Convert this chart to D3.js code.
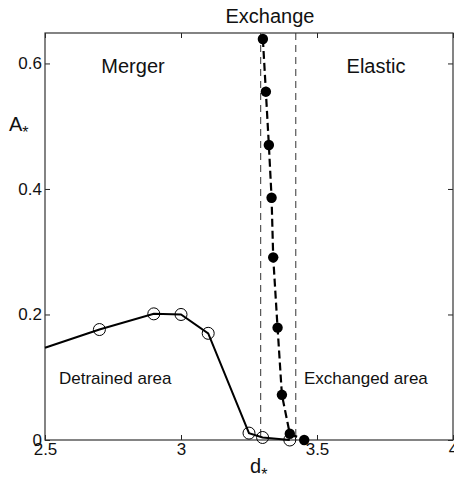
<!DOCTYPE html>
<html>
<head>
<meta charset="utf-8">
<script src="https://cdn.jsdelivr.net/npm/d3@7/dist/d3.min.js"></script>
<style>
  body { margin: 0; background: #fff; }
  svg { font-family: "Liberation Sans", Arial, sans-serif; }
</style>
</head>
<body>
<div id="chart"></div>
<script>
// detrained (solid line, open circles)
var detrainX = [2.5, 2.7, 2.9, 3.0, 3.1, 3.25, 3.3, 3.4];
var detrainY = [0.147, 0.176, 0.201, 0.200, 0.170, 0.011, 0.004, 0.0];
var detrainMarker = [false, true, true, true, true, true, true, true];

// exchanged (dashed line, filled circles)
var exchX = [3.301, 3.312, 3.323, 3.333, 3.339, 3.355, 3.371, 3.400, 3.453];
var exchY = [0.639, 0.555, 0.470, 0.386, 0.291, 0.179, 0.072, 0.010, 0.0];

// regime boundaries
var boundaries = [3.293, 3.422];

var xTicks = [2.5, 3, 3.5, 4];
var yTicks = [0, 0.2, 0.4, 0.6];

var width = 454, height = 488;
var margin = {top: 33, right: 1, bottom: 48, left: 45};

var svg = d3.select("#chart").append("svg")
    .attr("width", width)
    .attr("height", height);

var x = d3.scaleLinear().domain([2.5, 4]).range([margin.left, width - margin.right]);
var y = d3.scaleLinear().domain([0, 0.6485]).range([height - margin.bottom, margin.top]);

var g = svg.append("g");

function styleAxis(sel) {
    sel.select(".domain").remove();
    sel.selectAll("line").attr("stroke", "#222");
    sel.selectAll("text").attr("fill", "#111").style("font-size", "17px");
}

// axes with inward ticks
g.append("g")
    .attr("transform", "translate(0," + y(0) + ")")
    .call(d3.axisBottom(x).tickValues(xTicks).tickFormat(d3.format("")).tickSize(-5).tickPadding(3))
    .call(styleAxis);
g.append("g")
    .attr("transform", "translate(0," + margin.top + ")")
    .call(d3.axisTop(x).tickValues(xTicks).tickFormat("").tickSize(-5))
    .call(styleAxis);
g.append("g")
    .attr("transform", "translate(" + margin.left + ",0)")
    .call(d3.axisLeft(y).tickValues(yTicks).tickFormat(d3.format("")).tickSize(-5).tickPadding(3))
    .call(styleAxis);
g.append("g")
    .attr("transform", "translate(" + (width - margin.right) + ",0)")
    .call(d3.axisRight(y).tickValues(yTicks).tickFormat("").tickSize(-5))
    .call(styleAxis);

// box
g.append("rect")
    .attr("x", x(2.5)).attr("y", y.range()[1])
    .attr("width", x(4) - x(2.5)).attr("height", y(0) - y.range()[1])
    .attr("fill", "none").attr("stroke", "#333").attr("stroke-width", 1.2);

// dashed boundaries
g.selectAll(".bound").data(boundaries).enter().append("line")
    .attr("class", "bound")
    .attr("x1", function(d){ return x(d); }).attr("x2", function(d){ return x(d); })
    .attr("y1", y.range()[1]).attr("y2", y(0))
    .attr("stroke", "#333").attr("stroke-width", 1)
    .attr("stroke-dasharray", "7,5");

// solid detrained line
var detrain = detrainX.map(function(d, i){ return [d, detrainY[i], detrainMarker[i]]; });
var line = d3.line().x(function(d){ return x(d[0]); }).y(function(d){ return y(d[1]); });

g.append("path").datum(detrain)
    .attr("d", line)
    .attr("fill", "none").attr("stroke", "#000").attr("stroke-width", 2);

g.selectAll(".open").data(detrain.filter(function(d){ return d[2]; })).enter().append("circle")
    .attr("class", "open")
    .attr("cx", function(d){ return x(d[0]); })
    .attr("cy", function(d){ return y(d[1]); })
    .attr("r", 6)
    .attr("fill", "none").attr("stroke", "#000").attr("stroke-width", 1);

// dashed exchanged line
var exch = exchX.map(function(d, i){ return [d, exchY[i]]; });
g.append("path").datum(exch)
    .attr("d", line)
    .attr("fill", "none").attr("stroke", "#000").attr("stroke-width", 2.2)
    .attr("stroke-dasharray", "8,4");

g.selectAll(".filled").data(exch).enter().append("circle")
    .attr("class", "filled")
    .attr("cx", function(d){ return x(d[0]); })
    .attr("cy", function(d){ return y(d[1]); })
    .attr("r", 5.2)
    .attr("fill", "#000");

// region labels
var labels = [
    {t: "Exchange", x: 270, y: 23, a: "middle", s: 20},
    {t: "Merger", x: 133, y: 73, a: "middle", s: 20},
    {t: "Elastic", x: 376, y: 73, a: "middle", s: 20},
    {t: "Detrained area", x: 59, y: 384, a: "start", s: 17},
    {t: "Exchanged area", x: 304, y: 384, a: "start", s: 17}
];
svg.selectAll(".lab").data(labels).enter().append("text")
    .attr("class", "lab")
    .attr("x", function(d){ return d.x; })
    .attr("y", function(d){ return d.y; })
    .attr("text-anchor", function(d){ return d.a; })
    .style("font-size", function(d){ return d.s + "px"; })
    .attr("fill", "#111")
    .text(function(d){ return d.t; });

// axis titles
var yl = svg.append("text").attr("x", 9).attr("y", 131).style("font-size", "20px").attr("fill", "#111");
yl.append("tspan").text("A");
yl.append("tspan").attr("dy", 7).style("font-size", "16px").text("*");

var xl = svg.append("text").attr("x", 250).attr("y", 473).style("font-size", "20px").attr("fill", "#111");
xl.append("tspan").text("d");
xl.append("tspan").attr("dy", 7).style("font-size", "16px").text("*");
</script>
</body>
</html>
